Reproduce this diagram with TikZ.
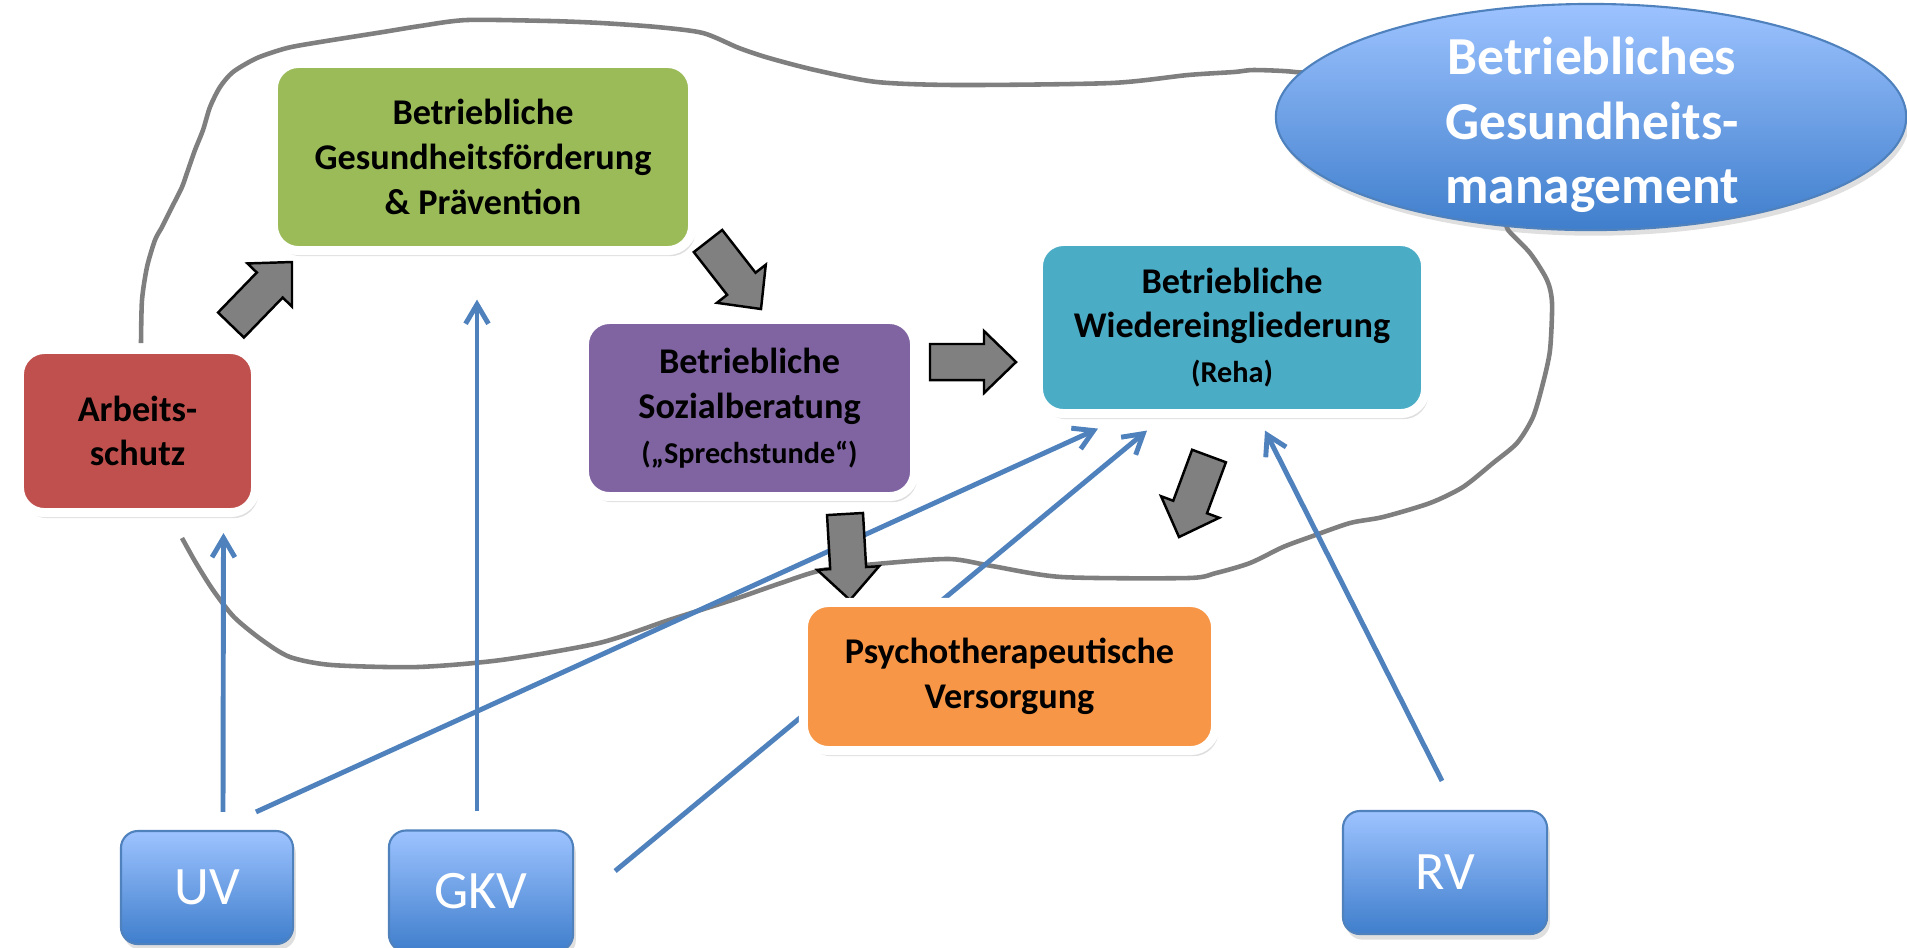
\documentclass[tikz,border=0pt]{standalone}
\usepackage{fontspec}
\setmainfont{Carlito}
\usetikzlibrary{shapes.geometric, arrows.meta, calc, shadows, backgrounds}

\definecolor{bgfgreen}{HTML}{9BBB59}
\definecolor{asred}{HTML}{C0504D}
\definecolor{sbpurple}{HTML}{8064A2}
\definecolor{bwteal}{HTML}{4BACC6}
\definecolor{ptorange}{HTML}{F79646}
\definecolor{lineblue}{HTML}{4F81BD}
\definecolor{lightblue}{HTML}{9DC3FF}
\definecolor{darkblue}{HTML}{3F7ECC}
\definecolor{arrowgray}{HTML}{808080}
\definecolor{blobgray}{HTML}{7F7F7F}

\tikzset{
  fieldbox/.style={rectangle, rounded corners=0.25cm, draw=white, line width=0.09cm,
    inner sep=0pt, align=center, font=\fontsize{10.3}{12.7}\selectfont\bfseries,
    drop shadow={opacity=0.25, shadow xshift=0.8pt, shadow yshift=-1.6pt}},
  carrier/.style={rectangle, rounded corners=0.17cm, draw=lineblue, line width=0.6pt,
    top color=lightblue, bottom color=darkblue, inner sep=0pt, text=white,
    font=\fontsize{15.4}{18}\selectfont,
    drop shadow={opacity=0.25, shadow xshift=0.8pt, shadow yshift=-1.6pt}},
  bluearrow/.style={draw=lineblue, line width=1.4pt, -{Straight Barb[length=5.5pt,width=6.5pt]}},
  grayarrow/.style={fill=arrowgray, draw=black, line width=0.7pt, line join=miter},
  blobline/.style={draw=blobgray, line width=1.3pt}
}

% block arrow from tail centre #1 to tip #2
\newcommand{\grayarrow}[2]{%
  \coordinate (ga-t) at (#1);
  \coordinate (ga-p) at (#2);
  \coordinate (ga-n) at ($(ga-p)!0.32cm!(ga-t)$);
  \draw[grayarrow] ($(ga-t)!0.18cm!90:(ga-p)$) -- ($(ga-n)!0.18cm!-90:(ga-t)$)
    -- ($(ga-n)!0.31cm!-90:(ga-t)$) -- (ga-p) -- ($(ga-n)!0.31cm!90:(ga-t)$)
    -- ($(ga-n)!0.18cm!90:(ga-t)$) -- ($(ga-t)!0.18cm!-90:(ga-p)$) -- cycle;}

\begin{document}
\begin{tikzpicture}[x=0.01cm, y=-0.01cm]
  \useasboundingbox (0,0) rectangle (1907,947);

  % fields
  \node[fieldbox, fill=bgfgreen, minimum width=4.19cm, minimum height=1.87cm] (bgf) at (483,157)
    {Betriebliche\\Gesundheitsförderung\\\& Prävention};
  \node[fieldbox, fill=asred, minimum width=2.36cm, minimum height=1.63cm] (as) at (137.5,431)
    {Arbeits-\\schutz};
  \node[fieldbox, fill=sbpurple, minimum width=3.30cm, minimum height=1.77cm] (sb) at (749.5,408)
    {Betriebliche\\Sozialberatung\\{\fontsize{8.6}{10.5}\selectfont („Sprechstunde“)}};
  \node[fieldbox, fill=bwteal, minimum width=3.87cm, minimum height=1.72cm] (bw) at (1232,327.5)
    {Betriebliche\\Wiedereingliederung\\{\fontsize{8.6}{10.5}\selectfont (Reha)}};
  \node[fieldbox, fill=ptorange, minimum width=4.12cm, minimum height=1.48cm] (pt) at (1009.5,676.5)
    {Psychotherapeutische\\Versorgung};

  % carriers
  \node[carrier, minimum width=1.72cm, minimum height=1.13cm] (uv) at (207,887.5) {UV};
  \node[carrier, minimum width=1.84cm, minimum height=1.21cm] (gkv) at (481,891) {GKV};
  \node[carrier, minimum width=2.04cm, minimum height=1.23cm] (rv) at (1445,872.5) {RV};

  \begin{scope}[on background layer]
    % boundary of the BGM
    \draw[blobline] plot[smooth, tension=0.45] coordinates {
      (141,343) (142,300) (147,267) (155,240) (162,227) (172,207) (182,187) (188,170)
      (195,150) (203,130) (210,107) (220,87) (233,72) (257,58) (287,48) (320,42)
      (383,32) (420,26) (467,20) (550,21) (601,23) (657,27) (703,33) (739,48)
      (769,58) (815,70) (877,82) (958,85) (1111,83) (1188,75) (1234,72) (1254,70)
      (1295,72) (1330,80) (1420,150) (1500,215) (1508,230) (1530,253) (1547,280)
      (1552,303) (1550,350) (1543,383) (1533,417) (1517,443) (1493,463) (1463,487)
      (1430,503) (1383,517) (1350,523) (1310,537) (1283,547) (1250,563) (1216,573)
      (1188,578) (1062,577) (992,566) (950,559) (887,563) (823,570) (781,583)
      (732,600) (669,620) (599,643) (501,660) (417,667) (332,665) (290,657)
      (262,640) (234,617) (213,590) (196,563) (182,538)};

    % carriers to fields
    \draw[bluearrow] ($(uv.north)+(16,-18)$) -- ($(as.south)+(86,16)$);
    \draw[bluearrow] ($(uv.north)+(49,-18)$) -- ($(bw.south)+(-134,10.5)$);
    \draw[bluearrow] ($(gkv.north)+(-4,-18)$) -- ($(bgf.south)+(-6,44.5)$);
    \draw[bluearrow] ($(gkv.east)+(41,-20)$) -- ($(bw.south)+(-85,12.5)$);
    \draw[bluearrow] ($(rv.north)+(-3,-29)$) -- ($(bw.south)+(33,12.5)$);

    % flow between fields
    \grayarrow{231,325}{292,262}
    \grayarrow{708,241}{761,309}
    \grayarrow{930,362}{1016,362}
    \grayarrow{845,514}{850,600}
    \grayarrow{1209,456}{1179,537}
  \end{scope}

  % title
  \node[ellipse, draw=lineblue, line width=0.6pt, top color=lightblue, bottom color=darkblue,
    minimum width=6.3cm, minimum height=2.26cm,
    drop shadow={opacity=0.25, shadow xshift=0.8pt, shadow yshift=-1.6pt}] (bgm) at (1591,117) {};
  \node[text=white, align=center, font=\fontsize{15.2}{18.3}\selectfont\bfseries] (bgmtext)
    at ($(bgm.center)+(1,8)$) {Betriebliches\\Gesundheits-\\management};
\end{tikzpicture}
\end{document}
